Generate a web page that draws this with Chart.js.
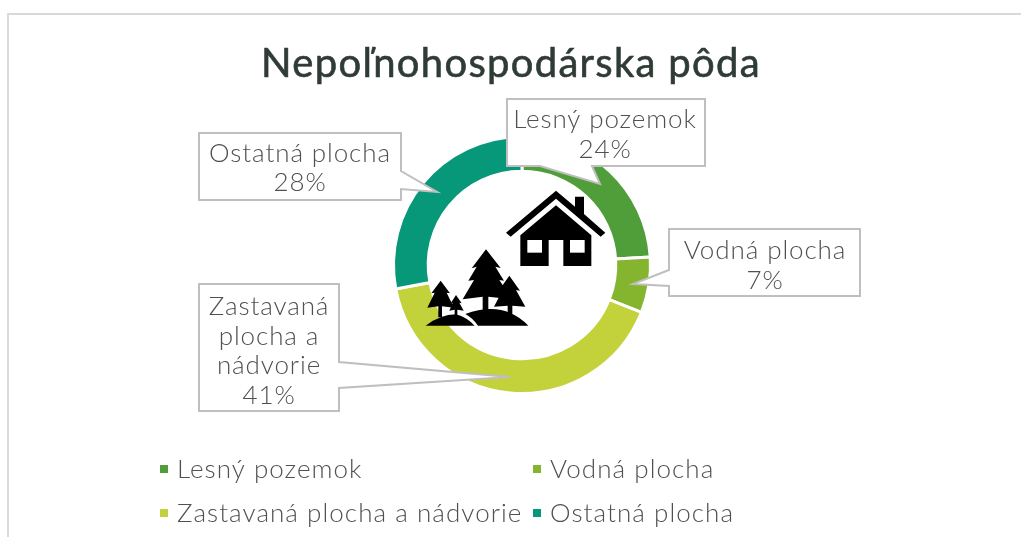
<!DOCTYPE html>
<html><head><meta charset="utf-8">
<style>html,body{margin:0;padding:0;background:#fff}canvas{display:block}</style>
<script src="https://cdn.jsdelivr.net/npm/chart.js@4/dist/chart.umd.min.js"></script>
</head><body>
<div style="width:1021px;height:537px;position:relative"><canvas id="c" width="1021" height="537"></canvas></div>
<script>
const titleText = "Nepoľnohospodárska pôda";
const categories = ["Lesný pozemok","Vodná plocha","Zastavaná plocha a nádvorie","Ostatná plocha"];
const shares = [24,7,41,28];
const colors = ["#4f9e3a","#85b52f","#c3d13a","#07987a"];
const calloutLines = [["Lesný pozemok"],["Vodná plocha"],["Zastavaná","plocha a","nádvorie"],["Ostatná plocha"]];
const FF = '"Lato", sans-serif';
const boxes = [
 {r:[507,99,198,67], t:[[592,166],[600,184],[540,166]], y:[120,150], cx:605},
 {r:[669,229,191,67], t:[[669,270],[633,284],[669,286]], y:[251,281], cx:765},
 {r:[199,284,140,127], t:[[339,362],[510,377],[339,388]], y:[307,337,366,396], cx:269},
 {r:[199,133,202,67], t:[[401,171],[437,192],[401,189]], y:[154,183], cx:300}
];
function poly(ctx,p){ctx.beginPath();p.forEach((q,i)=>i?ctx.lineTo(q[0],q[1]):ctx.moveTo(q[0],q[1]));ctx.closePath();}
function drawIcons(ctx){
  ctx.save();ctx.fillStyle="#000";
  ctx.save();
  ctx.translate(380,130);ctx.scale(1/3,1/3);
  poly(ctx,[[378,308],[528,182],[585,230],[585,200],[612,200],[612,252],[676,308],[662,320],[528,206],[392,320]]);ctx.fill();
  poly(ctx,[[528,226],[634,316],[634,408],[550,408],[550,330],[506,330],[506,408],[421,408],[421,316]]);ctx.fill();
  ctx.fillStyle="#fff";ctx.fillRect(442,330,44,38);ctx.fillRect(570,330,44,38);
  ctx.restore();
  ctx.translate(420,240);ctx.scale(1/3,1/3);
  poly(ctx,[[198,28],[242,84],[226,80],[252,122],[238,120],[276,178],[205,170],[205,210],[188,210],[188,170],[128,178],[162,120],[145,122],[170,80],[155,85]]);ctx.fill();
  poly(ctx,[[268,107],[300,152],[288,150],[316,200],[277,197],[277,222],[263,222],[263,197],[222,200],[248,150],[236,152]]);ctx.fill();
  poly(ctx,[[62,122],[90,160],[80,158],[102,203],[66,199],[66,232],[55,232],[55,199],[22,203],[44,158],[34,160]]);ctx.fill();
  poly(ctx,[[108,165],[125,190],[118,188],[131,212],[112,209],[112,226],[104,226],[104,209],[88,212],[98,188],[92,190]]);ctx.fill();
  ctx.beginPath();ctx.moveTo(17,257);ctx.quadraticCurveTo(60,224,108,223);ctx.quadraticCurveTo(140,232,164,257);ctx.closePath();ctx.fill();
  ctx.beginPath();ctx.moveTo(174,257);ctx.quadraticCurveTo(158,234,136,222);ctx.quadraticCurveTo(250,180,325,257);ctx.closePath();ctx.fill();
  ctx.restore();
}
const decor = {id:"decor",
  beforeDraw(chart){const ctx=chart.ctx;ctx.save();ctx.fillStyle="#fff";ctx.fillRect(0,0,1021,537);
    ctx.strokeStyle="#d9d9d9";ctx.lineWidth=2;ctx.strokeRect(8,14,1040,560);ctx.restore();},
  afterDatasetsDraw(chart){const ctx=chart.ctx;ctx.save();
    ctx.textAlign="center";ctx.textBaseline="alphabetic";
    ctx.font="400 40px "+FF;ctx.fillStyle="#2f3b35";ctx.strokeStyle="#2f3b35";ctx.lineWidth=0.6;
    ctx.letterSpacing="1.3px";
    ctx.fillText(titleText,511,77);ctx.strokeText(titleText,511,77);
    ctx.letterSpacing="0px";
    drawIcons(ctx);
    ctx.textBaseline="middle";
    boxes.forEach((b,i)=>{
      const [x,y,w,h]=b.r;
      ctx.fillStyle="#fff";ctx.strokeStyle="#bfbfbf";ctx.lineWidth=2;
      const t=b.t; let pts;
      if(i===0) pts=[[x,y],[x+w,y],[x+w,y+h],t[0],t[1],t[2],[x,y+h]];
      else if(i===1) pts=[[x,y],[x+w,y],[x+w,y+h],[x,y+h],t[2],t[1],t[0]];
      else pts=[[x,y],[x+w,y],t[0],t[1],t[2],[x+w,y+h],[x,y+h]];
      poly(ctx,pts);ctx.fill();ctx.stroke();
      const lines=[...calloutLines[i],shares[i]+"%"];
      ctx.font="300 26px "+FF;
      ctx.fillStyle="#505050";ctx.letterSpacing="0.9px";
      lines.forEach((s,k)=>ctx.fillText(s,b.cx,b.y[k]));
      ctx.letterSpacing="0px";
    });
    const lx=[160,533],ly=[470,514];
    ctx.textAlign="left";ctx.font="300 26px "+FF;
    categories.forEach((c,i)=>{
      const px=lx[i%2],py=ly[i>>1];
      ctx.fillStyle=colors[i];ctx.fillRect(px,py-5,8,8);
      ctx.fillStyle="#505050";ctx.letterSpacing="1.05px";ctx.fillText(c,px+17,py);ctx.letterSpacing="0px";
    });
    ctx.restore();}
};
new Chart(document.getElementById("c"),{
  type:"doughnut",
  data:{labels:categories,datasets:[{data:shares,backgroundColor:colors,borderColor:"#fff",borderWidth:3}]},
  options:{responsive:false,animation:false,cutout:"73%",
    layout:{padding:{left:392,right:1021-652,top:135,bottom:537-395}},
    plugins:{legend:{display:false},title:{display:false},tooltip:{enabled:false}}},
  plugins:[decor]
});
</script>
</body></html>
